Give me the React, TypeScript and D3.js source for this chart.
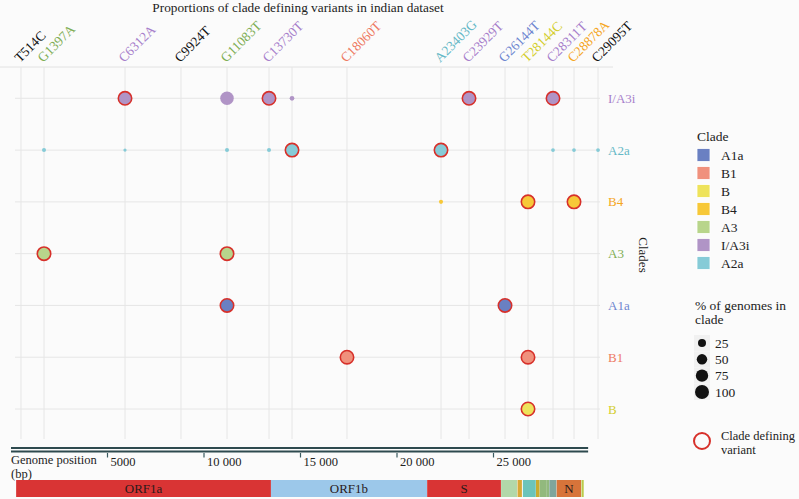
import React from 'react';
import * as d3 from 'd3';

// ---------- data ----------
const clades = ['I/A3i', 'A2a', 'B4', 'A3', 'A1a', 'B1', 'B'];
const legendClades = ['A1a', 'B1', 'B', 'B4', 'A3', 'I/A3i', 'A2a'];
const cladeFill: Record<string, string> = {
  A1a: '#6A80C2', B1: '#F0917D', B: '#EEE35B', B4: '#F7C838', A3: '#B8D58B', 'I/A3i': '#B094C6', A2a: '#86CBD7',
};
const cladeText: Record<string, string> = {
  A1a: '#6E86D0', B1: '#EE7A62', B: '#D4CE2E', B4: '#F5A623', A3: '#7FAE55', 'I/A3i': '#A77FCB', A2a: '#64B8C6', none: '#111111',
};

const variants = ['T514C', 'G1397A', 'C6312A', 'C9924T', 'G11083T', 'C13730T', 'C14408T', 'C18060T', 'A23403G', 'C23929T', 'G26144T', 'T28144C', 'C28311T', 'C28878A', 'C29095T'];
// position of each variant along the (nudged) top axis, in bp-like plot units
const variantPlotPos = [518, 1710, 5907, 8808, 11192, 13368, 14560, 17409, 22280, 23731, 25596, 26788, 28083, 29171, 30415];
const variantLabelClade = ['none', 'A3', 'I/A3i', 'none', 'A3', 'I/A3i', '', 'B1', 'A2a', 'I/A3i', 'A1a', 'B', 'I/A3i', 'B4', 'none'];

const pointClade = ['I/A3i', 'I/A3i', 'I/A3i', 'I/A3i', 'I/A3i', 'I/A3i',
  'A2a', 'A2a', 'A2a', 'A2a', 'A2a', 'A2a', 'A2a', 'A2a', 'A2a',
  'B4', 'B4', 'B4', 'A3', 'A3', 'A1a', 'A1a', 'B1', 'B1', 'B'];
const pointVariant = ['C6312A', 'G11083T', 'C13730T', 'C14408T', 'C23929T', 'C28311T',
  'G1397A', 'C6312A', 'G11083T', 'C13730T', 'C14408T', 'A23403G', 'C28311T', 'C28878A', 'C29095T',
  'A23403G', 'T28144C', 'C28878A', 'G1397A', 'G11083T', 'G11083T', 'G26144T', 'C18060T', 'T28144C', 'T28144C'];
const pointPct = [100, 92, 100, 5, 100, 100,
  3, 1, 3, 3, 100, 100, 2, 2, 2,
  3, 100, 100, 100, 100, 100, 100, 100, 100, 100];
const pointDefining = [1, 0, 1, 0, 1, 1,
  0, 0, 0, 0, 1, 1, 0, 0, 0,
  0, 1, 1, 1, 1, 1, 1, 1, 1, 1];

const geneNames = ['ORF1a', 'ORF1b', 'S', 'ORF3a', 'E', 'M', 'ORF6', 'ORF7a', 'ORF7b', 'ORF8', 'N', 'ORF10'];
const geneStart = [266, 13468, 21563, 25393, 26245, 26523, 27202, 27394, 27756, 27894, 28274, 29558];
const geneEnd = [13468, 21555, 25384, 26220, 26472, 27191, 27387, 27759, 27887, 28259, 29533, 29674];
const geneColors = ['#D93434', '#9CC8EA', '#D93434', '#B2D8A9', '#D9A837', '#6CC4BA', '#C9AB30', '#92B97D', '#92B97D', '#7EA59C', '#D7743A', '#BACB4B'];
const geneLabelShown = ['ORF1a', 'ORF1b', 'S', 'N'];

const axisTicks = [5000, 10000, 15000, 20000, 25000];
const axisTickLabels = ['5000', '10 000', '15 000', '20 000', '25 000'];
const genomeLength = 29903;

const sizeLegendValues = [25, 50, 75, 100];

// ---------- chart ----------
const FONT = "'Liberation Serif', 'DejaVu Serif', serif";
const T = { fontFamily: FONT } as const;

export default function App() {
  const W = 799, H = 499;
  const x = d3.scaleLinear().domain([0, 30000]).range([11, 590]);
  const y = d3.scalePoint<string>().domain(clades).range([98.3, 409]);
  const r = d3.scaleSqrt().domain([0, 100]).range([1, 7]);
  const posOf = (v: string) => variantPlotPos[variants.indexOf(v)];

  const legendY = d3.scalePoint<string>().domain(legendClades).range([155, 263]);
  const sizeY = d3.scalePoint<string>().domain(sizeLegendValues.map(String)).range([343, 392]);

  const gridTop = 67, gridBottom = 439;
  const bandTop = 480, bandBottom = 497;

  return (
    <div style={{ position: 'fixed', left: 0, top: 0, width: W, height: H }}>
      <svg width={W} height={H} style={{ display: 'block' }}>
        <rect x={0} y={0} width={W} height={H} fill="#FBFBFB" />
        {/* title */}
        <text {...T} x={298} y={12} textAnchor="middle" fontSize={13.3} fill="#222">
          Proportions of clade defining variants in indian dataset
        </text>

        {/* top axis line */}
        <line x1={0} x2={613} y1={gridTop} y2={gridTop} stroke="#E2E2E2" strokeWidth={1} />

        {/* vertical grid */}
        {variants.map((v, i) => (
          <line key={'vg' + v} x1={x(variantPlotPos[i])} x2={x(variantPlotPos[i])} y1={gridTop} y2={gridBottom}
            stroke="#E6E6E6" strokeWidth={1} />
        ))}
        {/* horizontal grid */}
        {clades.map((c) => (
          <line key={'hg' + c} x1={15} x2={600} y1={y(c)} y2={y(c)} stroke="#E6E6E6" strokeWidth={1} />
        ))}

        {/* top labels */}
        {variants.map((v, i) => variantLabelClade[i] === '' ? null : (
          <text {...T} key={'tl' + v} transform={`translate(${x(variantPlotPos[i]) - 1},${63}) rotate(-45)`}
            fontSize={13.5} fill={cladeText[variantLabelClade[i]]}>{v}</text>
        ))}

        {/* row labels */}
        {clades.map((c) => (
          <text {...T} key={'rl' + c} x={608} y={y(c)!} dy="0.35em" fontSize={13} fill={cladeText[c]}>{c}</text>
        ))}
        <text {...T} transform={`translate(639,255) rotate(90)`} textAnchor="middle" fontSize={13} fill="#222">Clades</text>

        {/* points */}
        {pointClade.map((c, i) => {
          const def = pointDefining[i] === 1;
          return (
            <circle key={'p' + i} cx={x(posOf(pointVariant[i]))} cy={y(c)} r={def ? r(pointPct[i]) - 0.3 : r(pointPct[i])}
              fill={cladeFill[c]} stroke={def ? '#D7302A' : 'none'} strokeWidth={def ? 1.6 : 0} />
          );
        })}

        {/* bottom genome axis */}
        <rect x={x(0)} y={447} width={x(genomeLength) - x(0)} height={2} fill="#2E4A4F" />
        <rect x={x(0)} y={450.5} width={x(genomeLength) - x(0)} height={2} fill="#2E4A4F" />
        {axisTicks.map((t, i) => (
          <g key={'bt' + t}>
            <line x1={x(t)} x2={x(t)} y1={453} y2={457.5} stroke="#3A5A60" strokeWidth={1.2} />
            <text {...T} x={x(t) + 3} y={466} fontSize={12.5} fill="#222">{axisTickLabels[i]}</text>
          </g>
        ))}
        <text {...T} x={11} y={464} fontSize={12.5} fill="#222">Genome position</text>
        <text {...T} x={11} y={478} fontSize={12.5} fill="#222">(bp)</text>

        {/* gene band */}
        {geneNames.map((g, i) => (
          <rect key={'g' + g} x={x(geneStart[i])} y={bandTop} width={x(geneEnd[i]) - x(geneStart[i])}
            height={bandBottom - bandTop} fill={geneColors[i]} />
        ))}
        {geneNames.map((g, i) => geneLabelShown.includes(g) ? (
          <text {...T} key={'gl' + g} x={(x(geneStart[i]) + x(geneEnd[i])) / 2} y={(bandTop + bandBottom) / 2} dy="0.35em"
            textAnchor="middle" fontSize={13} fill="#2A1A1A">{g}</text>
        ) : null)}

        {/* clade legend */}
        <text {...T} x={697} y={141} fontSize={13.5} fill="#222">Clade</text>
        {legendClades.map((c) => (
          <g key={'lg' + c}>
            <rect x={697} y={legendY(c)! - 6.5} width={13} height={13} fill={cladeFill[c]} stroke="#FFFFFF" strokeWidth={0.8} />
            <text {...T} x={721} y={legendY(c)!} dy="0.35em" fontSize={13.5} fill="#222">{c}</text>
          </g>
        ))}

        {/* size legend */}
        <text {...T} x={695} y={310} fontSize={13.5} fill="#222">% of genomes in</text>
        <text {...T} x={695} y={324} fontSize={13.5} fill="#222">clade</text>
        {sizeLegendValues.map((v) => (
          <g key={'sl' + v}>
            <rect x={694} y={sizeY(String(v))! - 8} width={16} height={16} fill="#F1F1F1" />
            <circle cx={702} cy={sizeY(String(v))!} r={r(v)} fill="#111" />
            <text {...T} x={715} y={sizeY(String(v))!} dy="0.35em" fontSize={13.5} fill="#222">{v}</text>
          </g>
        ))}

        {/* defining legend */}
        <circle cx={702} cy={441} r={8} fill="none" stroke="#D7302A" strokeWidth={2} />
        <text {...T} x={721} y={440} fontSize={12.5} fill="#222">Clade defining</text>
        <text {...T} x={721} y={454} fontSize={12.5} fill="#222">variant</text>
      </svg>
    </div>
  );
}
